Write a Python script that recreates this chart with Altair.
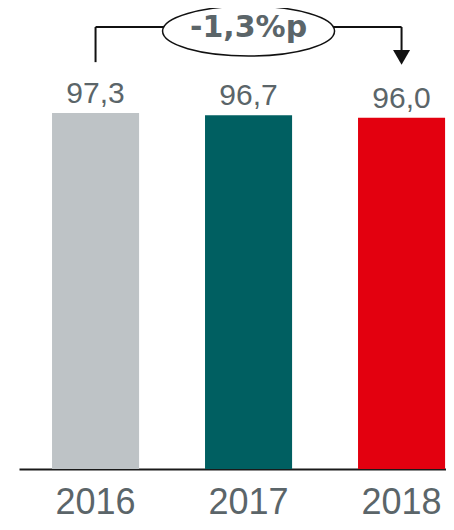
import altair as alt
import pandas as pd

# ---- data ----
years = ["2016", "2017", "2018"]
values = [97.3, 96.7, 96.0]
value_labels = ["97,3", "96,7", "96,0"]
bar_colors = ["#bec3c6", "#005f61", "#e3000f"]
change_label = "-1,3%p"

df = pd.DataFrame({"year": years, "value": values, "label": value_labels})

TEXT_COLOR = "#5b6569"
FONT = "Liberation Sans"

x_enc = alt.X(
    "year:N",
    sort=years,
    scale=alt.Scale(domain=years, paddingInner=0.431, paddingOuter=0.1109, align=0.973),
    axis=alt.Axis(
        title=None, labelAngle=0, labelFontSize=36, labelFont=FONT,
        labelColor=TEXT_COLOR, ticks=False, tickSize=0, domainColor="#1a1a1a",
        domainWidth=2, labelBaseline="alphabetic", labelPadding=44, grid=False,
    ),
)
y_scale = alt.Scale(domain=[0, 126], nice=False, zero=True)

bars = alt.Chart(df).mark_bar().encode(
    x=x_enc,
    y=alt.Y("value:Q", scale=y_scale, axis=None),
    color=alt.Color("year:N", scale=alt.Scale(domain=years, range=bar_colors), legend=None),
)

labels = alt.Chart(df).mark_text(
    dy=-10, baseline="alphabetic", fontSize=30, font=FONT, color=TEXT_COLOR
).encode(
    x=alt.X("year:N", sort=years),
    y=alt.Y("value:Q", scale=y_scale),
    text="label:N",
)

# ---- change bracket annotation ----
seg_df = pd.DataFrame({
    "x": [years[0], years[0], years[2]],
    "x2": [years[0], years[2], years[2]],
    "y": [111.2, 120.8, 112.5],
    "y2": [120.8, 120.8, 120.8],
})
segments = alt.Chart(seg_df).mark_rule(color="#111111", strokeWidth=2).encode(
    x=alt.X("x:N", sort=years), x2="x2:N",
    y=alt.Y("y:Q", scale=y_scale), y2="y2:Q",
)

arrow = alt.Chart(pd.DataFrame({"year": [years[2]]})).mark_point(
    shape="triangle-down", filled=True, size=289, color="#111111", opacity=1
).encode(x=alt.X("year:N", sort=years), y=alt.datum(112.5))

c = 0.5523
k = 0.29
ellipse_path = (
    f"M-1,0 C-1,{-k*c:.4f} {-c},{-k} 0,{-k} C{c},{-k} 1,{-k*c:.4f} 1,0 "
    f"C1,{k*c:.4f} {c},{k} 0,{k} C{-c},{k} -1,{k*c:.4f} -1,0 Z"
)
ellipse = alt.Chart(pd.DataFrame({"year": [years[1]]})).mark_point(
    shape=ellipse_path, size=172 ** 2, filled=True, fill="white",
    stroke="#111111", strokeWidth=1.5, opacity=1,
).encode(x=alt.X("year:N", sort=years), y=alt.datum(119.7))

change_text = alt.Chart(pd.DataFrame({"year": [years[1]], "t": [change_label]})).mark_text(
    baseline="alphabetic", fontSize=30, font="DejaVu Sans", fontWeight="bold", color=TEXT_COLOR
).encode(x=alt.X("year:N", sort=years), y=alt.datum(118.0), text="t:N")

chart = alt.layer(bars, labels, segments, arrow, ellipse, change_text).properties(
    width=427, height=461,
    padding={"left": 11, "top": 0, "right": 0, "bottom": 53},
    autosize=alt.AutoSizeParams(type="none"),
).configure_view(stroke=None)

chart.save("out.html", embed_options={"renderer": "svg", "actions": False})
